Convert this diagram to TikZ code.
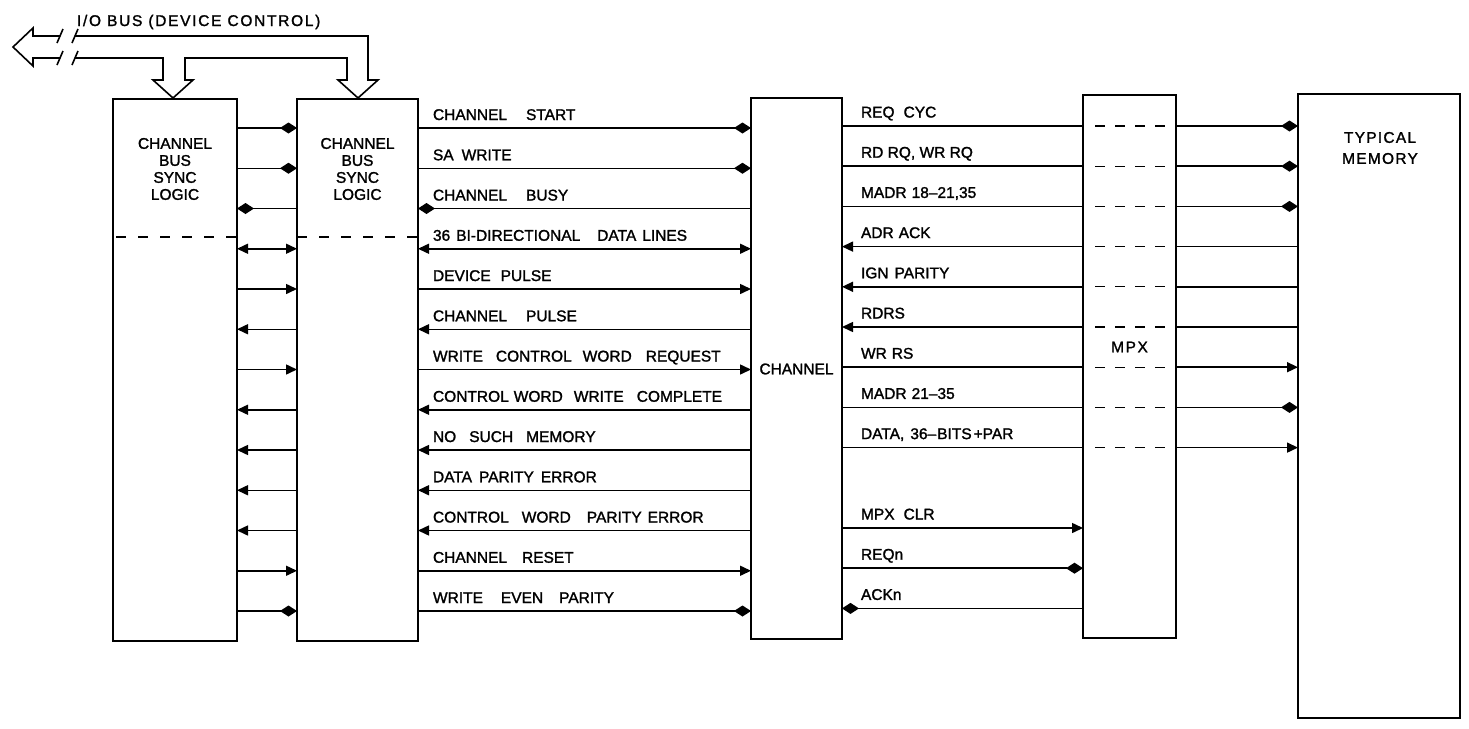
\documentclass[tikz,border=0pt]{standalone}
\usepackage{fontspec}
\setmainfont{Liberation Sans}
\newfontfamily\labfont{Liberation Sans}[RawFeature={embolden=1.5}]
\usetikzlibrary{arrows.meta}
\newcommand\gp[1]{\hspace{#1pt}}
\begin{document}
\begin{tikzpicture}[x=1pt,y=-1pt,
  box/.style={draw, line width=2.5pt, inner sep=0pt, outer sep=0pt},
  lab/.style={font=\labfont\fontsize{15.5}{17}\selectfont, inner sep=0pt, outer sep=0pt},
  sig/.style={line width=1.5pt},
  bus/.style={line width=1.6pt, line join=miter},
  Tr/.tip={Triangle[length=11pt,width=10pt]},
  Dm/.tip={Diamond[length=17pt,width=11pt]},
]
\useasboundingbox (0,0) rectangle (1469,728);

% boxes
\node[box, minimum width=124pt, minimum height=542pt] (A) at (175,370) {};
\node[box, minimum width=121pt, minimum height=542pt] (B) at (357.5,370) {};
\node[box, minimum width=91pt, minimum height=541pt] (C) at (796.5,368.5) {};
\node[box, minimum width=93pt, minimum height=543pt] (X) at (1129.5,366.5) {};
\node[box, minimum width=162pt, minimum height=624pt] (Mem) at (1379,406) {};

% box texts
\node[lab, align=center, anchor=north] (At) at (175,138) {CHANNEL\\BUS\\SYNC\\LOGIC};
\node[lab, align=center, anchor=north] (Bt) at (357.5,138) {CHANNEL\\BUS\\SYNC\\LOGIC};
\node[lab] (Ct) at (796.5,369) {CHANNEL};
\node[lab] (Xt) at (1129.5,347) {\addfontfeatures{LetterSpace=10}MPX};
\node[lab, align=center, anchor=north, font=\labfont\fontsize{15.5}{21}\selectfont\addfontfeatures{LetterSpace=8}] (Mt) at (1380,132) {TYPICAL\\MEMORY};
\node[lab, anchor=base west, font=\labfont\fontsize{15.5}{17}\selectfont\addfontfeatures{LetterSpace=11}] (io) at (77,26) {I/O BUS (DEVICE CONTROL)};

% row coordinates
\foreach \i in {0,...,12}{\coordinate (L\i) at (0,{128+40.25*\i});}
\foreach \j in {0,...,12}{\coordinate (R\j) at (0,{126+40.2*\j});}
\coordinate (D) at (0,237);

% dashed dividers in sync logic boxes
\draw[line width=2.5pt, dash pattern=on 10pt off 12pt] ([xshift=3pt]A.west |- D) -- (A.east |- D);
\draw[line width=2.5pt, dash pattern=on 10pt off 12pt] (B.west |- D) -- (B.east |- D);

% A <-> B
\draw[sig,-Dm] (A.east|-L0) -- (B.west|-L0);
\draw[sig,-Dm] (A.east|-L1) -- (B.west|-L1);
\draw[sig,Dm-] (A.east|-L2) -- (B.west|-L2);
\draw[sig,Tr-Tr] (A.east|-L3) -- (B.west|-L3);
\draw[sig,-Tr] (A.east|-L4) -- (B.west|-L4);
\draw[sig,Tr-] (A.east|-L5) -- (B.west|-L5);
\draw[sig,-Tr] (A.east|-L6) -- (B.west|-L6);
\draw[sig,Tr-] (A.east|-L7) -- (B.west|-L7);
\draw[sig,Tr-] (A.east|-L8) -- (B.west|-L8);
\draw[sig,Tr-] (A.east|-L9) -- (B.west|-L9);
\draw[sig,Tr-] (A.east|-L10) -- (B.west|-L10);
\draw[sig,-Tr] (A.east|-L11) -- (B.west|-L11);
\draw[sig,-Dm] (A.east|-L12) -- (B.west|-L12);

% B <-> Channel
\draw[sig,-Dm] (B.east|-L0) -- (C.west|-L0);
\draw[sig,-Dm] (B.east|-L1) -- (C.west|-L1);
\draw[sig,Dm-] (B.east|-L2) -- (C.west|-L2);
\draw[sig,Tr-Tr] (B.east|-L3) -- (C.west|-L3);
\draw[sig,-Tr] (B.east|-L4) -- (C.west|-L4);
\draw[sig,Tr-] (B.east|-L5) -- (C.west|-L5);
\draw[sig,-Tr] (B.east|-L6) -- (C.west|-L6);
\draw[sig,Tr-] (B.east|-L7) -- (C.west|-L7);
\draw[sig,Tr-] (B.east|-L8) -- (C.west|-L8);
\draw[sig,Tr-] (B.east|-L9) -- (C.west|-L9);
\draw[sig,Tr-] (B.east|-L10) -- (C.west|-L10);
\draw[sig,-Tr] (B.east|-L11) -- (C.west|-L11);
\draw[sig,-Dm] (B.east|-L12) -- (C.west|-L12);

% middle labels
\node[lab,anchor=base west] (m0) at (433,120) {CHANNEL\gp{19}START};
\node[lab,anchor=base west] (m1) at (433,160.25) {SA\gp{8}WRITE};
\node[lab,anchor=base west] (m2) at (433,200.5) {CHANNEL\gp{19}BUSY};
\node[lab,anchor=base west] (m3) at (433,240.75) {36\gp{6}BI-DIRECTIONAL\gp{17}DATA\gp{6}LINES};
\node[lab,anchor=base west] (m4) at (433,281) {DEVICE\gp{10}PULSE};
\node[lab,anchor=base west] (m5) at (433,321.25) {CHANNEL\gp{19}PULSE};
\node[lab,anchor=base west] (m6) at (433,361.5) {WRITE\gp{13}CONTROL\gp{11}WORD\gp{14}REQUEST};
\node[lab,anchor=base west] (m7) at (433,401.75) {CONTROL\gp{5}WORD\gp{11}WRITE\gp{13}COMPLETE};
\node[lab,anchor=base west] (m8) at (433,442) {NO\gp{13}SUCH\gp{13}MEMORY};
\node[lab,anchor=base west] (m9) at (433,482.25) {DATA\gp{7}PARITY\gp{7}ERROR};
\node[lab,anchor=base west] (m10) at (433,522.5) {CONTROL\gp{13}WORD\gp{16}PARITY\gp{6}ERROR};
\node[lab,anchor=base west] (m11) at (433,562.75) {CHANNEL\gp{15}RESET};
\node[lab,anchor=base west] (m12) at (433,603) {WRITE\gp{18}EVEN\gp{16}PARITY};

% Channel <-> MPX
\draw[sig] (C.east|-R0) -- (X.west|-R0);
\draw[sig] (C.east|-R1) -- (X.west|-R1);
\draw[sig] (C.east|-R2) -- (X.west|-R2);
\draw[sig,Tr-] (C.east|-R3) -- (X.west|-R3);
\draw[sig,Tr-] (C.east|-R4) -- (X.west|-R4);
\draw[sig,Tr-] (C.east|-R5) -- (X.west|-R5);
\draw[sig] (C.east|-R6) -- (X.west|-R6);
\draw[sig] (C.east|-R7) -- (X.west|-R7);
\draw[sig] (C.east|-R8) -- (X.west|-R8);
\draw[sig,-Tr] (C.east|-R10) -- (X.west|-R10);
\draw[sig,-Dm] (C.east|-R11) -- (X.west|-R11);
\draw[sig,Dm-] (C.east|-R12) -- (X.west|-R12);

% right labels
\node[lab,anchor=base west] (r0) at (861,117.5) {REQ\gp{9}CYC};
\node[lab,anchor=base west] (r1) at (861,157.7) {RD RQ, WR RQ};
\node[lab,anchor=base west] (r2) at (861,197.9) {MADR\gp{5}18–21,35};
\node[lab,anchor=base west] (r3) at (861,238.1) {ADR\gp{5}ACK};
\node[lab,anchor=base west] (r4) at (861,278.3) {IGN\gp{6}PARITY};
\node[lab,anchor=base west] (r5) at (861,318.5) {RDRS};
\node[lab,anchor=base west] (r6) at (861,358.7) {WR\gp{5}RS};
\node[lab,anchor=base west] (r7) at (861,398.9) {MADR\gp{5}21–35};
\node[lab,anchor=base west] (r8) at (861,439.1) {DATA,\gp{6}36–\gp{1}BITS\gp{2}+PAR};
\node[lab,anchor=base west] (r10) at (861,519.5) {MPX\gp{9}CLR};
\node[lab,anchor=base west] (r11) at (861,559.7) {REQn};
\node[lab,anchor=base west] (r12) at (861,599.9) {ACKn};

% MPX internal dashed paths
\foreach \j in {0,...,8}{
  \draw[line width=1.3pt, dash pattern=on 10pt off 10pt] ([xshift=12pt]X.west |- R\j) -- ([xshift=-9pt]X.east |- R\j);
}

% MPX <-> Memory
\draw[sig,-Dm] (X.east|-R0) -- (Mem.west|-R0);
\draw[sig,-Dm] (X.east|-R1) -- (Mem.west|-R1);
\draw[sig,-Dm] (X.east|-R2) -- (Mem.west|-R2);
\draw[sig] (X.east|-R3) -- (Mem.west|-R3);
\draw[sig] (X.east|-R4) -- (Mem.west|-R4);
\draw[sig] (X.east|-R5) -- (Mem.west|-R5);
\draw[sig,-Tr] (X.east|-R6) -- (Mem.west|-R6);
\draw[sig,-Dm] (X.east|-R7) -- (Mem.west|-R7);
\draw[sig,-Tr] (X.east|-R8) -- (Mem.west|-R8);

% I/O bus
\draw[bus] (75,36) -- (368,36) -- (368,80) -- (378,80) -- (358,98) -- (338,80) -- (347,80) -- (347,58)
  -- (185,58) -- (185,80) -- (193,80) -- (173,98) -- (153,80) -- (163,80) -- (163,58) -- (75,58);
\draw[bus] (60,36) -- (33,36) -- (33,28) -- (13,47) -- (33,66) -- (33,58) -- (60,58);
\draw[bus] (57,43) -- (63,29);
\draw[bus] (57,65) -- (63,51);
\draw[bus] (72,43) -- (78,29);
\draw[bus] (72,65) -- (78,51);
\end{tikzpicture}
\end{document}
